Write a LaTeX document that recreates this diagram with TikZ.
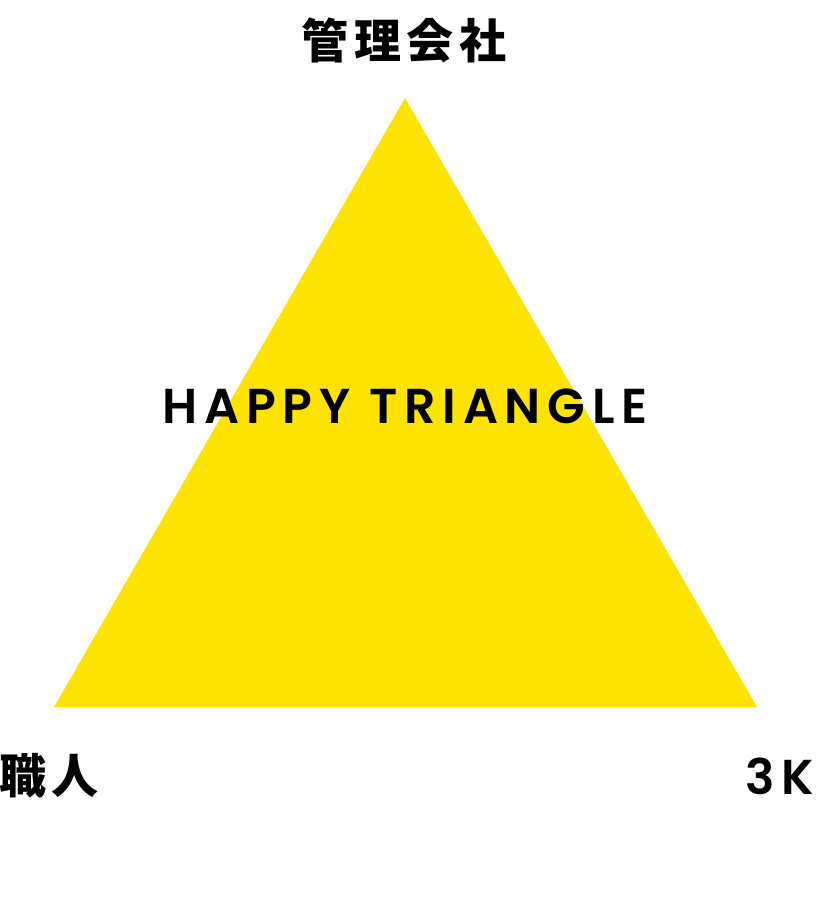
\documentclass[tikz,border=0pt]{standalone}
\usepackage{fontspec}
\newfontfamily\cjk{Noto Sans CJK JP}[LetterSpace=12]
\newfontfamily\latin{Poppins}[LetterSpace=14, BoldFont={Poppins SemiBold}]
\usetikzlibrary{positioning, calc}

\definecolor{happyyellow}{HTML}{FDE300}

\begin{document}
\begin{tikzpicture}[x=1pt, y=1pt]
    \useasboundingbox (0, 0) rectangle (816, 910);

    % corners of the triangle
    \coordinate (top) at (405, 812);
    \coordinate (left) at (54, 203);
    \coordinate (right) at (757, 203);

    \fill[happyyellow] (top) -- (left) -- (right) -- cycle;

    \node[font=\cjk\bfseries\fontsize{47}{47}\selectfont] (company) at (404, 870) {管理会社};
    \node[font=\latin\bfseries\fontsize{49}{49}\selectfont] (title) at (405, 504) {HAPPY TRIANGLE};
    \node[font=\cjk\bfseries\fontsize{47}{47}\selectfont] (craftsman) at (49, 134) {職人};
    \node[font=\latin\bfseries\fontsize{49}{49}\selectfont] (threek) at (780, 134) {3K};

\end{tikzpicture}
\end{document}
